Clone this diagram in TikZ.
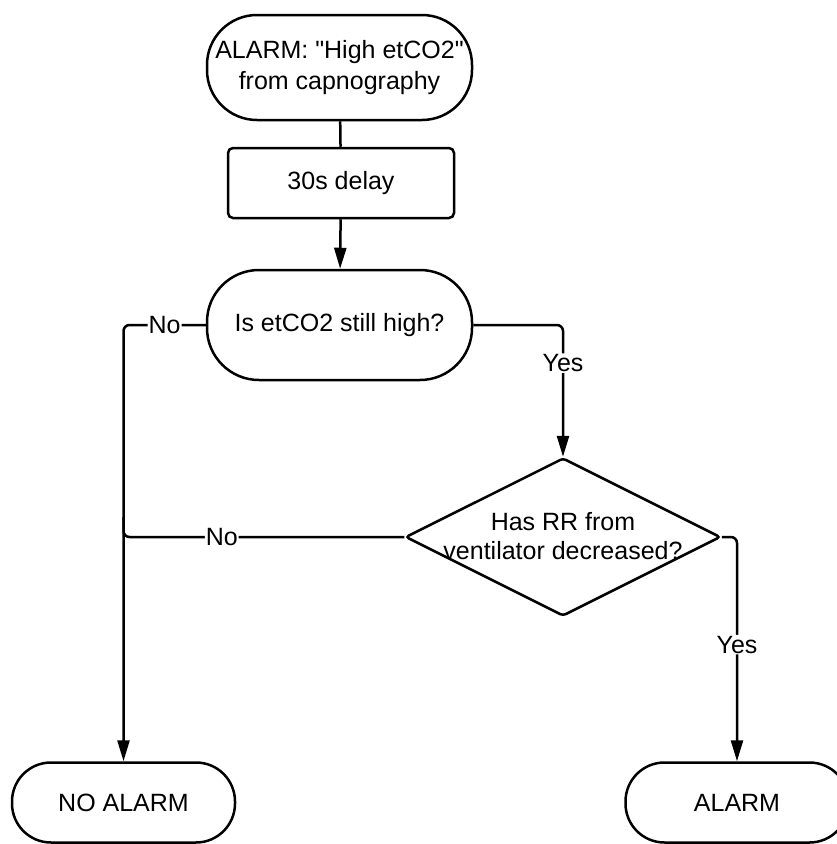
\documentclass[tikz,border=0pt]{standalone}
\usepackage{fontspec}
\setmainfont{Liberation Sans}[Ligatures=TeXOff]
\usetikzlibrary{shapes.geometric,arrows.meta}
\begin{document}
\begin{tikzpicture}[x=1pt,y=-1pt,
  every node/.style={font=\fontsize{25}{30}\selectfont},
  flow/.style={line width=2.5pt, line join=round},
  arrowflow/.style={flow, -{Triangle[length=21pt,width=12pt]}},
  terminal/.style={draw, line width=2.5pt, align=center, inner sep=0pt},
  process/.style={draw, line width=2.5pt, align=center, rounded corners=5pt},
  decision/.style={draw, line width=2.5pt, diamond, aspect=2, inner sep=0pt,
    minimum width=315pt, minimum height=158pt, rounded corners=3pt},
  lbl/.style={fill=white, inner sep=1pt}]
\useasboundingbox (0,0) rectangle (837,844);

% boxes
\node[terminal, minimum width=265pt, minimum height=105pt, rounded corners=50pt]
  (start) at (339.5,67.5) {ALARM: "High etCO2"\\[1pt]from capnography};
\node[process, minimum width=226pt, minimum height=70pt]
  (delay) at (341,183) {30s delay};
\node[terminal, minimum width=265pt, minimum height=110pt, rounded corners=52pt]
  (check) at (339.5,325) {Is etCO2 still high?};
\node[decision] (rr) at (563,537) {};
\node[align=center] (rrtext) at ([yshift=1pt]rr.center) {Has RR from\\[-1pt]ventilator decreased?};
\node[terminal, minimum width=223pt, minimum height=80pt, rounded corners=39pt]
  (noalarm) at (123.5,802.5) {NO ALARM};
\node[terminal, minimum width=223pt, minimum height=80pt, rounded corners=39pt]
  (alarm) at (737,802.5) {ALARM};

% connectors
\draw[flow] (start) -- (delay);
\draw[arrowflow] (delay) -- (check);

\coordinate (nobend) at (noalarm.north |- check.west);
\draw[arrowflow, rounded corners=6pt] (check.west) -- node[lbl]{No} (nobend) -- (noalarm.north);

\coordinate (yesbend) at (rr.north |- check.east);
\draw[arrowflow, rounded corners=6pt] (check.east) -- (yesbend) -- node[lbl,pos=0.29]{Yes} (rr.north);

\coordinate (nojoin) at (noalarm.north |- rr.west);
\coordinate (nojoinend) at ([yshift=20pt]nojoin);
\draw[flow, rounded corners=6pt] (rr.west) -- node[lbl,pos=0.65]{No} (nojoin) -- (nojoinend);

\coordinate (yesbend2) at (alarm.north |- rr.east);
\draw[arrowflow, rounded corners=6pt] (rr.east) -- (yesbend2) -- node[lbl,pos=0.48]{Yes} (alarm.north);
\end{tikzpicture}
\end{document}
